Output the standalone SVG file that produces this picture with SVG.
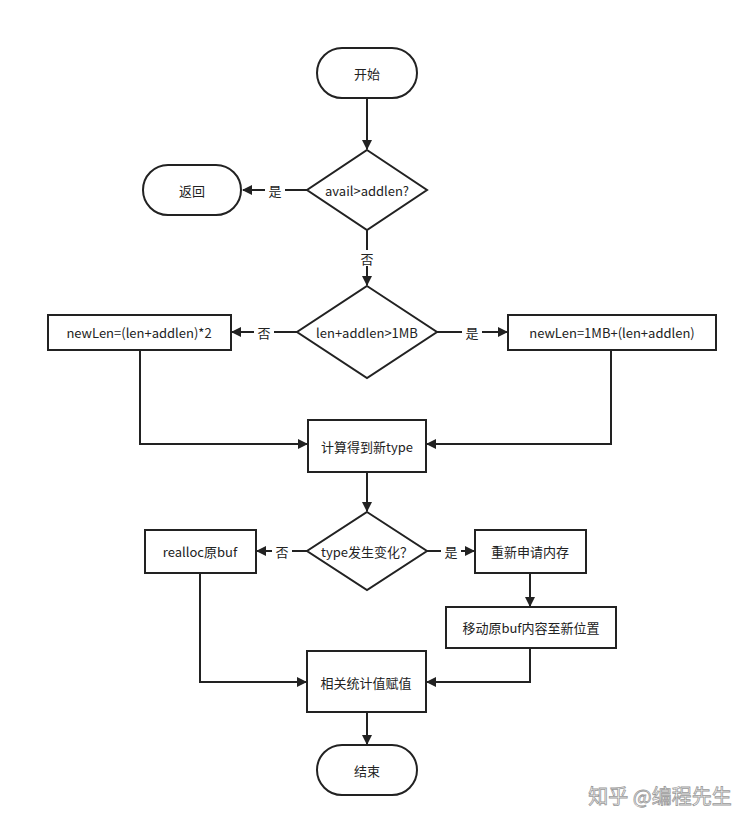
<svg xmlns="http://www.w3.org/2000/svg" width="748" height="827" viewBox="0 0 748 827">
<defs>
<marker id="a" markerWidth="10" markerHeight="10" refX="9" refY="5" orient="auto" markerUnits="userSpaceOnUse"><path d="M0,0 L10,5 L0,10 Z" fill="#222"/></marker>
<style>
.s{fill:#fff;stroke:#222;stroke-width:2}
.c{fill:none;stroke:#222;stroke-width:2;marker-end:url(#a)}
.n{fill:none;stroke:#222;stroke-width:2}
text{font-family:"Noto Sans CJK SC","Noto Sans",sans-serif;font-size:13px;fill:#222;text-anchor:middle;dominant-baseline:central}
.l{font-size:13px}
</style>
</defs>
<rect width="748" height="827" fill="#fff"/>
<g id="connectors">
<line class="c" x1="367" y1="98" x2="367" y2="149"/>
<line class="c" x1="307" y1="190" x2="243" y2="190"/>
<line class="c" x1="367" y1="230" x2="367" y2="285"/>
<line class="c" x1="297" y1="332" x2="232" y2="332"/>
<line class="c" x1="437" y1="332" x2="507" y2="332"/>
<polyline class="c" points="140,350 140,444 307,444"/>
<polyline class="c" points="611,350 611,444 427,444"/>
<line class="c" x1="367" y1="472" x2="367" y2="511"/>
<line class="c" x1="307" y1="551" x2="257" y2="551"/>
<line class="c" x1="427" y1="551" x2="474" y2="551"/>
<line class="c" x1="530" y1="573" x2="530" y2="606"/>
<polyline class="c" points="200,573 200,682 306,682"/>
<polyline class="c" points="530,648 530,682 427,682"/>
<line class="c" x1="367" y1="712" x2="367" y2="744"/>
<rect x="265" y="182" width="20" height="16" fill="#fff"/><text class="l" x="275" y="190">是</text>
<rect x="357" y="250" width="20" height="16" fill="#fff"/><text class="l" x="367" y="258">否</text>
<rect x="254" y="324" width="20" height="16" fill="#fff"/><text class="l" x="264" y="332">否</text>
<rect x="462" y="324" width="20" height="16" fill="#fff"/><text class="l" x="472" y="332">是</text>
<rect x="272" y="543" width="20" height="16" fill="#fff"/><text class="l" x="282" y="551">否</text>
<rect x="441" y="543" width="20" height="16" fill="#fff"/><text class="l" x="451" y="551">是</text>
</g>
<g id="start"><rect class="s" x="317" y="48" width="100" height="50" rx="25"/><text x="367" y="73">开始</text></g>
<g id="d1"><polygon class="s" points="367,150 427,190 367,230 307,190"/><text x="367" y="190">avail&gt;addlen?</text></g>
<g id="ret"><rect class="s" x="143" y="165" width="98" height="50" rx="25"/><text x="192" y="190">返回</text></g>
<g id="d2"><polygon class="s" points="367,286 437,332 367,378 297,332"/><text x="367" y="332">len+addlen&gt;1MB</text></g>
<g id="b1"><rect class="s" x="48" y="315" width="183" height="35"/><text x="139" y="332">newLen=(len+addlen)*2</text></g>
<g id="b2"><rect class="s" x="508" y="315" width="208" height="35"/><text x="612" y="332">newLen=1MB+(len+addlen)</text></g>
<g id="calc"><rect class="s" x="308" y="420" width="118" height="52"/><text x="367" y="446">计算得到新type</text></g>
<g id="d3"><polygon class="s" points="367,512 427,551 367,590 307,551"/><text x="367" y="551">type发生变化？</text></g>
<g id="realloc"><rect class="s" x="145" y="530" width="111" height="43"/><text x="200" y="551">realloc原buf</text></g>
<g id="newmem"><rect class="s" x="475" y="530" width="111" height="43"/><text x="530" y="551">重新申请内存</text></g>
<g id="move"><rect class="s" x="446" y="607" width="170" height="41"/><text x="531" y="627">移动原buf内容至新位置</text></g>
<g id="stat"><rect class="s" x="307" y="651" width="119" height="61"/><text x="366" y="682">相关统计值赋值</text></g>
<g id="end"><rect class="s" x="317" y="745" width="100" height="50" rx="25"/><text x="367" y="770">结束</text></g>
<text x="660" y="795" style="font-size:20px;fill:#fff;stroke:#999;stroke-width:0.8">知乎 @编程先生</text>
</svg>
